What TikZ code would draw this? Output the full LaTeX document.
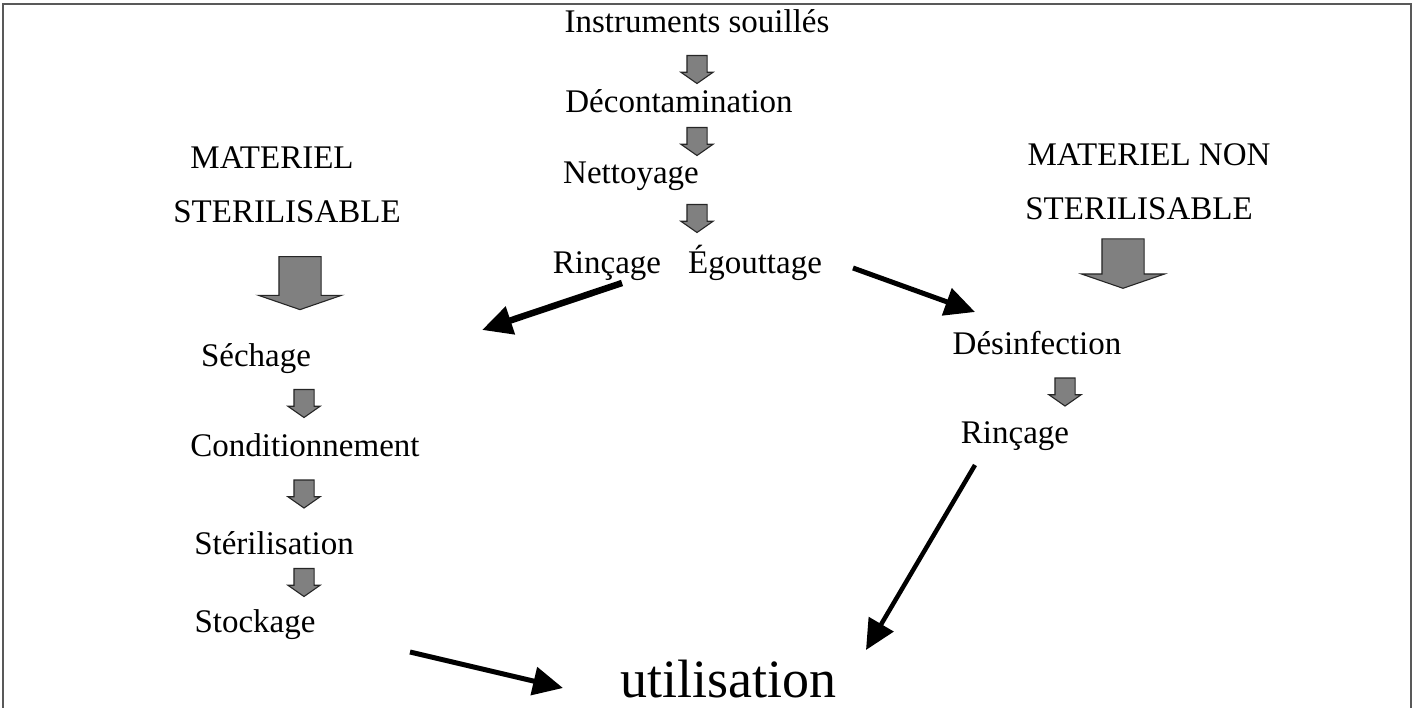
\documentclass[tikz,border=0pt]{standalone}
\usepackage{fontspec}
\setmainfont{Liberation Serif}
\usetikzlibrary{arrows.meta,shapes.arrows}
\begin{document}
\begin{tikzpicture}[x=1pt,y=-1pt,
  lbl/.style={anchor=base,inner sep=0pt,font=\fontsize{33}{40}\selectfont},
  blk/.style={single arrow,draw=black!85,fill=black!50,line width=1.1pt,shape border rotate=270,single arrow head indent=0pt},
  smallarr/.style={blk,inner sep=9.5pt,minimum height=28pt,single arrow head extend=6pt,single arrow tip angle=110},
  bigarr/.style={blk,inner sep=20.5pt,single arrow head extend=20.5pt,single arrow tip angle=142},
  fl/.style={-{Triangle[length=30pt,width=28pt]},line width=5pt}]
\useasboundingbox (0,0) rectangle (1415,708);
\draw[line width=2pt,black!65] (3,708) -- (3,4) -- (1411,4) -- (1411,708);
\node[lbl] (inst) at (697,33) {Instruments souillés};
\node[smallarr] (s1) at (697,66) {};
\node[lbl] (deco) at (679,113) {Décontamination};
\node[smallarr] (s2) at (697,138) {};
\node[lbl] (nett) at (631,184) {Nettoyage};
\node[smallarr] (s3) at (697,215) {};
\node[lbl] (rinc) at (607,274) {Rinçage};
\node[lbl] (egou) at (755,274) {Égouttage};
\node[lbl] (mat) at (272,169) {MATERIEL};
\node[lbl] (ster) at (287,223) {STERILISABLE};
\node[bigarr,minimum height=53pt] (bl) at (300,279.5) {};
\node[lbl] (matnon) at (1149,166) {MATERIEL NON};
\node[lbl] (nster) at (1139,220) {STERILISABLE};
\node[bigarr,minimum height=48pt] (br) at (1123,260) {};
\node[lbl] (sech) at (256,366) {Séchage};
\node[smallarr] (s4) at (304,400) {};
\node[lbl] (cond) at (305,456) {Conditionnement};
\node[smallarr] (s5) at (304,490.5) {};
\node[lbl] (steril) at (274,554) {Stérilisation};
\node[smallarr] (s6) at (304,579) {};
\node[lbl] (stock) at (255,632) {Stockage};
\node[lbl] (desinf) at (1037,354) {Désinfection};
\node[smallarr] (s7) at (1065,388.5) {};
\node[lbl] (rinc2) at (1015,443) {Rinçage};
\node[anchor=base,inner sep=0pt,font=\fontsize{54}{60}\selectfont] (util) at (728,697) {utilisation};
\coordinate (c1a) at (622,283);
\coordinate (c1b) at (482,330);
\coordinate (c2a) at (853,268);
\coordinate (c2b) at (975,312);
\coordinate (c3a) at (975,465);
\coordinate (c3b) at (866,650);
\coordinate (c4a) at (410,652);
\coordinate (c4b) at (563,688);
\draw[fl,line width=6.5pt] (c1a) -- (c1b);
\draw[fl] (c2a) -- (c2b);
\draw[fl,line width=4.5pt] (c3a) -- (c3b);
\draw[fl] (c4a) -- (c4b);
\end{tikzpicture}
\end{document}
